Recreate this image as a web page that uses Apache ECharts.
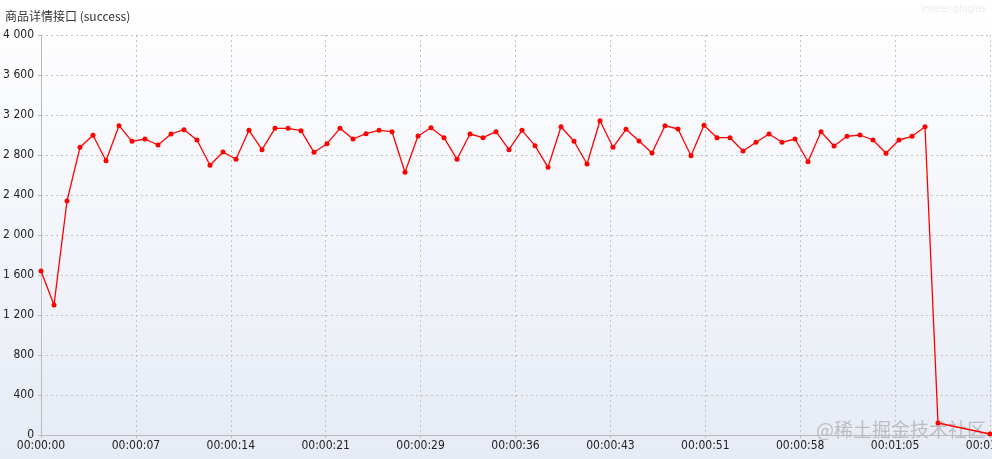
<!DOCTYPE html>
<html>
<head>
<meta charset="utf-8">
<script src="https://cdn.jsdelivr.net/npm/echarts@6/dist/echarts.min.js"></script>
<style>
  html, body { margin: 0; padding: 0; }
  #main { width: 992px; height: 459px; }
</style>
</head>
<body>
<div id="main"></div>
<script>
// seconds since test start
var seconds = [];
for (var s = 0; s <= 73; s++) seconds.push(s);

// successful transactions per second (null = no sample)
var successValues = [
  1640, 1300, 2340, 2877, 2997, 2743, 3093, 2937, 2960, 2900,
  3010, 3053, 2950, 2697, 2830, 2757, 3047, 2853, 3067, 3067,
  3043, 2827, 2913, 3067, 2960, 3013, 3047, 3033, 2627, 2990,
  3073, 2973, 2757, 3010, 2973, 3033, 2853, 3047, 2893, 2677,
  3083, 2937, 2710, 3143, 2877, 3057, 2940, 2820, 3093, 3060,
  2793, 3097, 2973, 2973, 2840, 2927, 3010, 2927, 2960, 2733,
  3033, 2890, 2987, 3000, 2950, 2817, 2950, 2987, 3083, 120,
  null, null, null, 10
];

var yTicks = [0, 400, 800, 1200, 1600, 2000, 2400, 2800, 3200, 3600, 4000];

var labelFont = '"Liberation Sans Narrow", "DejaVu Sans Condensed", "Liberation Sans", sans-serif';

function pad(n) { return n < 10 ? '0' + n : '' + n; }
function fmtTime(v) {
  var t = Math.floor(v + 1e-6);
  return pad(Math.floor(t / 3600)) + ':' + pad(Math.floor(t / 60) % 60) + ':' + pad(t % 60);
}
function fmtNum(v) {
  return String(v).replace(/\B(?=(\d{3})+(?!\d))/g, ' ');
}

var points = seconds.map(function (t, i) { return [t, successValues[i]]; });

var chart = echarts.init(document.getElementById('main'));
chart.setOption({
  animation: false,
  backgroundColor: new echarts.graphic.LinearGradient(0, 0, 0, 1, [
    { offset: 0, color: '#ffffff' },
    { offset: 1, color: '#e6ebf5' }
  ]),
  title: {
    text: '商品详情接口 (success)',
    left: 0,
    top: 5,
    textStyle: {
      fontSize: 12,
      fontWeight: 'normal',
      color: '#333',
      fontFamily: '"Liberation Sans Narrow", "Noto Sans CJK SC", sans-serif'
    }
  },
  graphic: [
    {
      type: 'text', right: 6, top: 4,
      style: { text: 'jmeter-plugins', fill: '#ebebeb', fontSize: 10, fontFamily: labelFont }
    },
    {
      type: 'text', left: 816, top: 420,
      style: { text: '@稀土掘金技术社区', fill: 'rgba(150,150,150,0.55)', fontSize: 19, fontFamily: '"Noto Sans CJK SC", sans-serif' }
    }
  ],
  grid: { left: 41, right: 2, top: 35, bottom: 24, containLabel: false, outerBoundsMode: 'none' },
  xAxis: {
    type: 'value',
    min: 0,
    max: 73,
    interval: 7.3,
    axisLine: { lineStyle: { color: '#bbbbbb' } },
    axisTick: { show: true, length: 3, lineStyle: { color: '#bbbbbb' } },
    axisLabel: {
      color: '#222',
      fontSize: 12,
      fontFamily: labelFont,
      margin: 5,
      formatter: fmtTime
    },
    splitLine: { show: true, lineStyle: { color: '#c2c2c2', type: [2, 3] } }
  },
  yAxis: {
    type: 'value',
    min: yTicks[0],
    max: yTicks[yTicks.length - 1],
    interval: yTicks[1] - yTicks[0],
    axisLine: { show: true, lineStyle: { color: '#bbbbbb' } },
    axisTick: { show: true, length: 3, lineStyle: { color: '#bbbbbb' } },
    axisLabel: {
      color: '#222',
      fontSize: 12,
      fontFamily: labelFont,
      margin: 7,
      formatter: fmtNum
    },
    splitLine: { show: true, lineStyle: { color: '#c2c2c2', type: [2, 3] } }
  },
  series: [
    {
      name: 'success',
      type: 'line',
      data: points,
      connectNulls: true,
      symbol: 'circle',
      symbolSize: 5,
      lineStyle: { color: '#ff0000', width: 1.3 },
      itemStyle: { color: '#ff0000' }
    }
  ]
});
</script>
</body>
</html>
